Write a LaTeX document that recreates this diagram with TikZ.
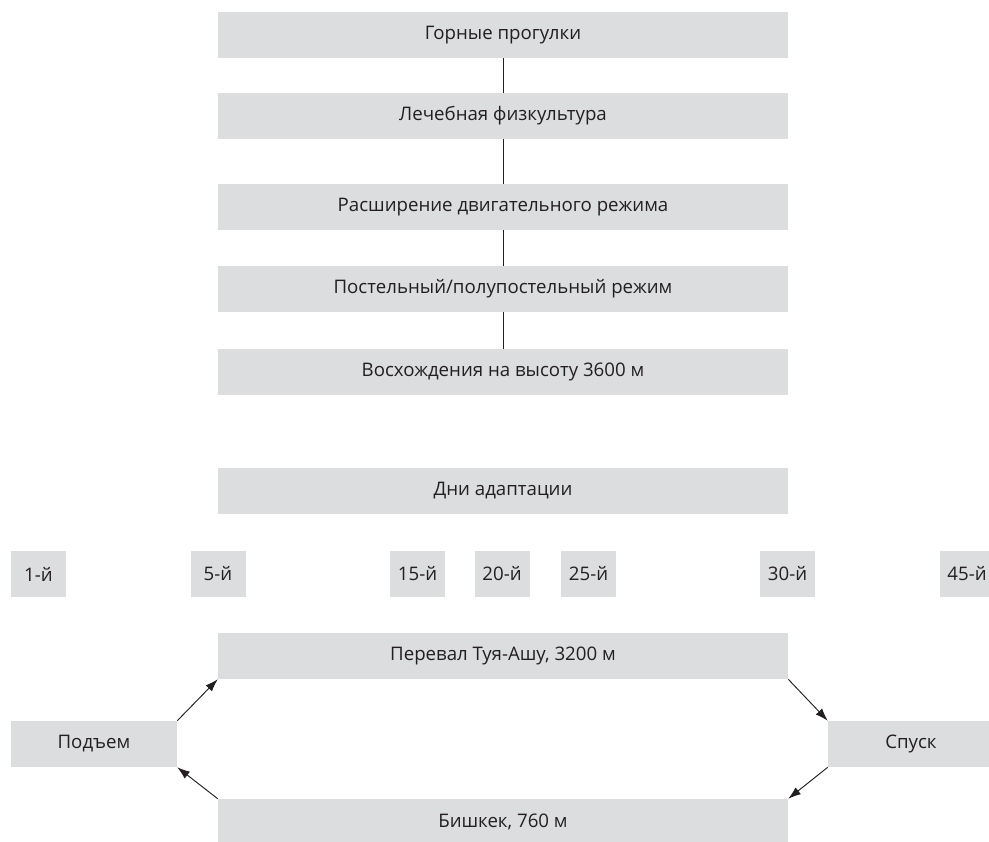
\documentclass[tikz,border=0pt]{standalone}
\usepackage{fontspec}
\setmainfont{Open Sans}
\usetikzlibrary{arrows.meta,positioning}
\definecolor{boxgrey}{HTML}{DCDDDE}
\definecolor{inkblack}{HTML}{231F20}
\tikzset{
  stage box/.style={fill=boxgrey, text=inkblack, minimum width=427.5pt, minimum height=34.5pt, inner sep=0pt},
  day box/.style={fill=boxgrey, text=inkblack, minimum width=41.25pt, minimum height=34.5pt, inner sep=0pt},
  side box/.style={fill=boxgrey, text=inkblack, minimum width=124.5pt, minimum height=34.5pt, inner sep=0pt},
  link line/.style={inkblack, line width=.7pt},
  flow arrow/.style={-{Latex[length=9.5pt,width=6.5pt]}, inkblack, line width=.7pt},
}
\begin{document}
\begin{tikzpicture}[x=.75pt,y=-.75pt,font=\fontsize{14}{16.5}\selectfont]
  \useasboundingbox (0,0) rectangle (989,842);

  % Regime column
  \node[stage box] (walks)   at (503,35)  {Горные прогулки};
  \node[stage box] (therapy) at (503,116) {Лечебная физкультура};
  \node[stage box] (motor)   at (503,207) {Расширение двигательного режима};
  \node[stage box] (bed)     at (503,289) {Постельный/полупостельный режим};
  \node[stage box] (climb)   at (503,372) {Восхождения на высоту 3600 м};
  \draw[link line] (walks.south)   -- (therapy.north);
  \draw[link line] (therapy.south) -- (motor.north);
  \draw[link line] (motor.south)   -- (bed.north);
  \draw[link line] (bed.south)     -- (climb.north);

  % Adaptation days
  \node[stage box] (days) at (503,491) {Дни адаптации};
  \foreach \d/\x in {1/38.5,5/218,15/417.5,20/502,25/588.5,30/787.5,45/967}
    \node[day box] (day\d) at (\x,574) {\d-й};

  % Route loop
  \node[stage box] (pass)    at (503,656) {Перевал Туя-Ашу, 3200 м};
  \node[side box]  (ascent)  at (94,744)  {Подъем};
  \node[side box]  (descent) at (911,744) {Спуск};
  \node[stage box] (bishkek) at (503,822) {Бишкек, 760 м};
  \draw[flow arrow] (ascent.north east)  -- (pass.south west);
  \draw[flow arrow] (pass.south east)    -- (descent.north west);
  \draw[flow arrow] (descent.south west) -- (bishkek.north east);
  \draw[flow arrow] (bishkek.north west) -- (ascent.south east);
\end{tikzpicture}
\end{document}
